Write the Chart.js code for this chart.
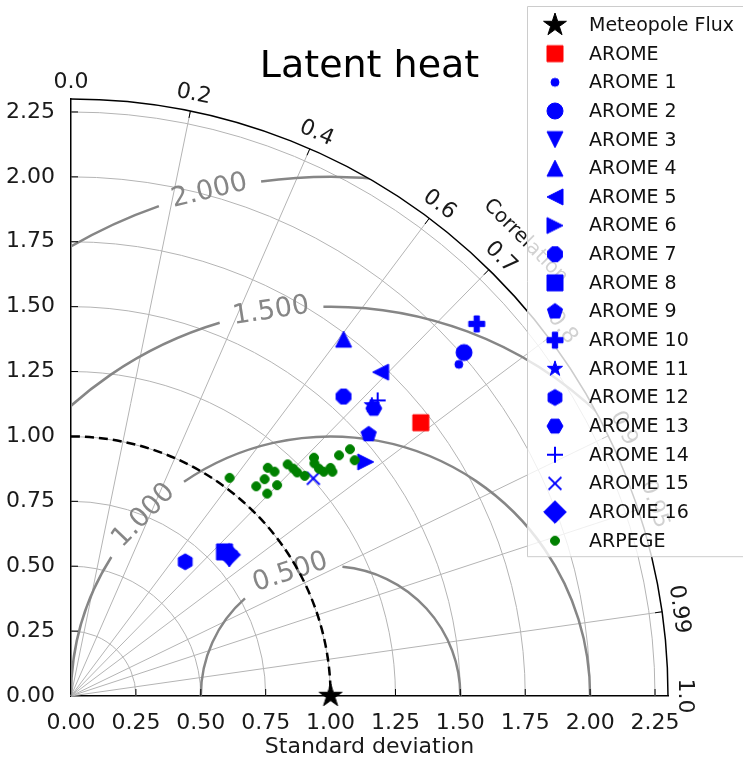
<!DOCTYPE html>
<html>
<head>
<meta charset="utf-8">
<script src="https://cdn.jsdelivr.net/npm/chart.js@4.4.0/dist/chart.umd.min.js"></script>
<style>
  html, body { margin: 0; padding: 0; background: #fff; }
</style>
</head>
<body>
<canvas id="taylor" width="743" height="758"></canvas>
<script>
// reference (observations)
const refLabel = 'Meteopole Flux';
const refStd = [1.0];
const refCorr = [1.0];

// AROME runs
const aromeLabels = ['AROME', 'AROME 1', 'AROME 2', 'AROME 3', 'AROME 4', 'AROME 5', 'AROME 6', 'AROME 7',
  'AROME 8', 'AROME 9', 'AROME 10', 'AROME 11', 'AROME 12', 'AROME 13', 'AROME 14', 'AROME 15', 'AROME 16'];
const aromeStd  = [1.710, 1.966, 2.011, 0.807, 1.730, 1.726, 1.450, 1.560, 0.811, 1.527, 2.121, 1.612, 0.679, 1.609, 1.641, 1.255, 0.817];
const aromeCorr = [0.788, 0.760, 0.753, 0.756, 0.607, 0.691, 0.783, 0.673, 0.729, 0.751, 0.737, 0.719, 0.648, 0.725, 0.720, 0.744, 0.746];

// ARPEGE runs
const arpegeLabel = 'ARPEGE';
const arpegeStd  = [1.039, 1.078, 1.120, 1.161, 1.167, 1.136, 1.086, 1.222, 1.225, 1.225,
                    1.237, 1.311, 1.297, 1.296, 1.302, 1.331, 1.327, 1.388, 1.435, 1.421];
const arpegeCorr = [0.588, 0.662, 0.666, 0.653, 0.672, 0.699, 0.696, 0.683, 0.699, 0.711,
                    0.728, 0.714, 0.723, 0.737, 0.748, 0.751, 0.759, 0.744, 0.749, 0.769];

// axes
const corrTicks = [0, 0.2, 0.4, 0.6, 0.7, 0.8, 0.9, 0.95, 0.99, 1];
const rmsLevels = [0.5, 1.0, 1.5, 2.0];

// styles (kept apart from the data)
const aromeMarkers = ['s', '.', 'o', 'v', '^', '<', '>', '8', 's', 'p', 'P', '*', 'h', 'H', '+', 'x', 'D'];
const rmsLabelAngle = [108, 136, 98.8, 103.5];
const FONT = '"DejaVu Sans", sans-serif';

function polyPath(g, n, r, rot) {
  for (let k = 0; k < n; k++) {
    const a = -Math.PI / 2 + rot + 2 * Math.PI * k / n;
    k === 0 ? g.moveTo(r * Math.cos(a), r * Math.sin(a)) : g.lineTo(r * Math.cos(a), r * Math.sin(a));
  }
  g.closePath();
}

function pts(g, list) {
  list.forEach((p, k) => k === 0 ? g.moveTo(p[0], p[1]) : g.lineTo(p[0], p[1]));
  g.closePath();
}

// matplotlib-like markers drawn on small canvases, used as pointStyle
function makeMarker(code, size, color) {
  const dim = Math.ceil(size * 1.5) + 6;
  const c = document.createElement('canvas');
  c.width = c.height = dim;
  const g = c.getContext('2d');
  g.translate(dim / 2, dim / 2);
  g.fillStyle = color;
  g.strokeStyle = color;
  g.lineWidth = 1;
  const h = size / 2;
  g.beginPath();
  switch (code) {
    case '.': g.arc(0, 0, h * 0.5, 0, 2 * Math.PI); break;
    case 'o': g.arc(0, 0, h, 0, 2 * Math.PI); break;
    case 's': g.rect(-h, -h, size, size); break;
    case '^': pts(g, [[0, -h], [h, h], [-h, h]]); break;
    case 'v': pts(g, [[0, h], [h, -h], [-h, -h]]); break;
    case '<': pts(g, [[-h, 0], [h, -h], [h, h]]); break;
    case '>': pts(g, [[h, 0], [-h, -h], [-h, h]]); break;
    case 'D': { const d = h * Math.SQRT2; pts(g, [[0, -d], [d, 0], [0, d], [-d, 0]]); break; }
    case 'p': polyPath(g, 5, h, 0); break;
    case 'h': polyPath(g, 6, h, 0); break;
    case 'H': polyPath(g, 6, h, Math.PI / 6); break;
    case '8': polyPath(g, 8, h, Math.PI / 8); break;
    case '*': {
      for (let k = 0; k < 10; k++) {
        const r = k % 2 ? h * 0.381966 : h;
        const a = -Math.PI / 2 + k * Math.PI / 5;
        k === 0 ? g.moveTo(r * Math.cos(a), r * Math.sin(a)) : g.lineTo(r * Math.cos(a), r * Math.sin(a));
      }
      g.closePath();
      break;
    }
    case 'P': {
      const u = size / 6;
      pts(g, [[-u, -3 * u], [u, -3 * u], [u, -u], [3 * u, -u], [3 * u, u], [u, u], [u, 3 * u],
              [-u, 3 * u], [-u, u], [-3 * u, u], [-3 * u, -u], [-u, -u]]);
      break;
    }
    case '+':
      g.lineWidth = 2;
      g.moveTo(-h, 0); g.lineTo(h, 0); g.moveTo(0, -h); g.lineTo(0, h);
      g.stroke();
      return c;
    case 'x':
      g.lineWidth = 2;
      g.moveTo(-h * 0.8, -h * 0.8); g.lineTo(h * 0.8, h * 0.8);
      g.moveTo(-h * 0.8, h * 0.8); g.lineTo(h * 0.8, -h * 0.8);
      g.stroke();
      return c;
  }
  g.fill();
  g.stroke();
  return c;
}

function toXY(std, corr) {
  return std.map((s, i) => ({ x: s * corr[i], y: s * Math.sqrt(1 - corr[i] * corr[i]) }));
}

const datasets = [];
datasets.push({ label: refLabel, data: toXY(refStd, refCorr), pointStyle: makeMarker('*', 24, '#000000') });
aromeLabels.forEach((lab, i) => {
  datasets.push({
    label: lab,
    data: toXY([aromeStd[i]], [aromeCorr[i]]),
    pointStyle: makeMarker(aromeMarkers[i], 16, i === 0 ? '#ff0000' : '#0000ff')
  });
});
datasets.push({ label: arpegeLabel, data: toXY(arpegeStd, arpegeCorr), pointStyle: makeMarker('o', 9, '#008000') });
datasets.forEach((ds, i) => {
  ds.clip = false;
  ds.pointRadius = 6;
  ds.order = datasets.length - i; // later series on top
});

const taylorAxes = {
  id: 'taylorAxes',
  beforeDatasetsDraw(chart) {
    const { ctx, scales: { x, y } } = chart;
    const ox = x.getPixelForValue(0);
    const oy = y.getPixelForValue(0);
    const unit = x.getPixelForValue(1) - ox;
    const R = x.max * unit;
    ctx.save();

    // std deviation arcs
    ctx.strokeStyle = '#b4b4b4';
    ctx.lineWidth = 1;
    y.ticks.forEach(t => {
      if (t.value <= 0) return;
      ctx.beginPath();
      ctx.arc(ox, oy, t.value * unit, -Math.PI / 2, 0);
      ctx.stroke();
    });
    // correlation rays
    corrTicks.forEach(c => {
      if (c <= 0 || c >= 1) return;
      const th = Math.acos(c);
      ctx.beginPath();
      ctx.moveTo(ox, oy);
      ctx.lineTo(ox + R * Math.cos(th), oy - R * Math.sin(th));
      ctx.stroke();
    });

    // centred RMS contours around the reference point
    ctx.save();
    ctx.beginPath();
    ctx.moveTo(ox, oy);
    ctx.arc(ox, oy, R, -Math.PI / 2, 0);
    ctx.closePath();
    ctx.clip();
    const cx = x.getPixelForValue(refStd[0]);
    ctx.strokeStyle = '#868686';
    ctx.fillStyle = '#868686';
    ctx.lineWidth = 2.5;
    ctx.font = '27px ' + FONT;
    ctx.textAlign = 'center';
    ctx.textBaseline = 'middle';
    rmsLevels.forEach((lv, i) => {
      const r = lv * unit;
      const phi = rmsLabelAngle[i] * Math.PI / 180;
      const txt = lv.toFixed(3);
      const gap = (ctx.measureText(txt).width / 2 + 14) / r;
      ctx.beginPath();
      ctx.arc(cx, oy, r, -Math.PI, -(phi + gap));
      ctx.stroke();
      ctx.beginPath();
      ctx.arc(cx, oy, r, -(phi - gap), 0);
      ctx.stroke();
      ctx.save();
      ctx.translate(cx + r * Math.cos(phi), oy - r * Math.sin(phi));
      ctx.rotate(Math.PI / 2 - phi);
      ctx.fillText(txt, 0, 0);
      ctx.restore();
    });
    ctx.restore();

    // reference std arc
    ctx.strokeStyle = '#000';
    ctx.lineWidth = 2.5;
    ctx.setLineDash([9, 5]);
    ctx.beginPath();
    ctx.arc(ox, oy, refStd[0] * unit, -Math.PI / 2, 0);
    ctx.stroke();
    ctx.setLineDash([]);

    // outer correlation axis
    ctx.lineWidth = 1.5;
    ctx.beginPath();
    ctx.arc(ox, oy, R, -Math.PI / 2, 0);
    ctx.stroke();

    // tick marks (inward)
    ctx.lineWidth = 1;
    corrTicks.forEach(c => {
      if (c <= 0 || c >= 1) return;
      const th = Math.acos(c);
      ctx.beginPath();
      ctx.moveTo(ox + R * Math.cos(th), oy - R * Math.sin(th));
      ctx.lineTo(ox + (R - 7) * Math.cos(th), oy - (R - 7) * Math.sin(th));
      ctx.stroke();
    });
    y.ticks.forEach(t => {
      if (t.value <= 0) return;
      const py = y.getPixelForValue(t.value);
      ctx.beginPath(); ctx.moveTo(ox, py); ctx.lineTo(ox + 7, py); ctx.stroke();
    });
    x.ticks.forEach(t => {
      if (t.value <= 0) return;
      const px = x.getPixelForValue(t.value);
      ctx.beginPath(); ctx.moveTo(px, oy); ctx.lineTo(px, oy - 7); ctx.stroke();
    });

    // correlation labels
    ctx.fillStyle = '#1a1a1a';
    ctx.font = '22px ' + FONT;
    ctx.textAlign = 'center';
    ctx.textBaseline = 'middle';
    corrTicks.forEach(c => {
      const th = Math.acos(c);
      ctx.save();
      ctx.translate(ox + (R + 17) * Math.cos(th), oy - (R + 17) * Math.sin(th));
      ctx.rotate(Math.PI / 2 - th);
      ctx.fillText(c === 0 || c === 1 ? c.toFixed(1) : String(c), 0, 0);
      ctx.restore();
    });
    ctx.font = '20px ' + FONT;
    ctx.save();
    ctx.translate(ox + (R + 46) * Math.cos(Math.PI / 4), oy - (R + 46) * Math.sin(Math.PI / 4));
    ctx.rotate(Math.PI / 4);
    ctx.fillText('Correlation', 0, 0);
    ctx.restore();

    ctx.restore();
  }
};

const legendBox = {
  id: 'legendBox',
  afterDraw(chart) {
    const ctx = chart.ctx;
    const sets = chart.data.datasets;
    const left = 527.5, top = 6.5, firstY = 25, rowH = 28.65;
    const bottom = firstY + rowH * (sets.length - 1) + 16;
    ctx.save();
    ctx.fillStyle = 'rgba(255,255,255,0.8)';
    ctx.strokeStyle = '#cccccc';
    ctx.lineWidth = 1;
    ctx.beginPath();
    ctx.rect(left, top, chart.width + 10 - left, bottom - top);
    ctx.fill();
    ctx.stroke();
    ctx.font = '19px ' + FONT;
    ctx.textAlign = 'left';
    ctx.textBaseline = 'middle';
    ctx.fillStyle = '#111';
    sets.forEach((ds, i) => {
      const yy = firstY + i * rowH;
      const img = ds.pointStyle;
      ctx.drawImage(img, 555 - img.width / 2, yy - img.height / 2);
      ctx.fillText(ds.label, 589, yy + 1);
    });
    ctx.restore();
  }
};

const tickFont = { family: FONT, size: 22 };

new Chart(document.getElementById('taylor'), {
  type: 'scatter',
  data: { datasets: datasets },
  options: {
    responsive: false,
    animation: false,
    events: [],
    layout: { padding: { top: 0, right: 75, bottom: 0, left: 0 } },
    plugins: {
      legend: { display: false },
      tooltip: { enabled: false },
      title: {
        display: true,
        fullSize: false,
        text: 'Latent heat',
        color: '#000',
        font: { family: FONT, size: 38, weight: 'normal', lineHeight: 1.2 },
        padding: { top: 44, bottom: 9.4 }
      }
    },
    scales: {
      x: {
        type: 'linear',
        position: 'bottom',
        min: 0,
        max: 2.3,
        grid: { display: false },
        border: { display: true, color: '#000', width: 1.5 },
        ticks: {
          stepSize: 0.25, includeBounds: false, autoSkip: false, maxRotation: 0,
          padding: 6, color: '#1a1a1a', font: tickFont,
          callback: v => v.toFixed(2)
        },
        title: {
          display: true, text: 'Standard deviation', color: '#1a1a1a',
          font: { family: FONT, size: 22, lineHeight: 1 }, padding: 0
        },
        afterFit: s => { s.height = 62; }
      },
      y: {
        type: 'linear',
        position: 'left',
        min: 0,
        max: 2.3,
        grid: { display: false },
        border: { display: true, color: '#000', width: 1.5 },
        ticks: {
          stepSize: 0.25, includeBounds: false, autoSkip: false,
          padding: 8, color: '#1a1a1a', font: tickFont,
          callback: v => v.toFixed(2)
        },
        afterFit: s => { s.width = 71; }
      }
    }
  },
  plugins: [taylorAxes, legendBox]
});
</script>
</body>
</html>
